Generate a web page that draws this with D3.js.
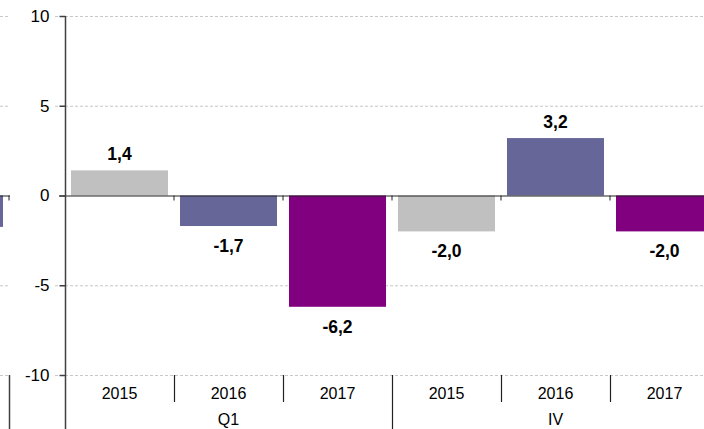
<!DOCTYPE html>
<html>
<head>
<meta charset="utf-8">
<script src="https://cdn.jsdelivr.net/npm/d3@7"></script>
<style>
  body { margin: 0; background: #fff; }
  text { font-family: Arial, "Liberation Sans", sans-serif; fill: #000; }
</style>
</head>
<body>
<div class="chart"></div>
<script>
var w = 704;
var h = 429;

// data
var years = ["2015", "2016", "2017", "2015", "2016", "2017"];
var groups = ["Q1", "IV"];
var values = [1.4, -1.7, -6.2, -2.0, 3.2, -2.0];
var labels = ["1,4", "-1,7", "-6,2", "-2,0", "3,2", "-2,0"];
var yTicks = [10, 5, 0, -5, -10];
var prevValue = -1.75; // last bar of the panel cut off on the left

var colors = ["#c0c0c0", "#666699", "#800080"];

var svg = d3.select(".chart")
  .append("svg")
  .attr("width", w)
  .attr("height", h);

var y = d3.scaleLinear()
  .domain([-10, 10])
  .range([375, 16]);

var x = d3.scaleBand()
  .domain(d3.range(years.length))
  .range([65, 65 + 109 * years.length])
  .paddingInner(0.11)
  .paddingOuter(0.055);

// left fragment scale (previous panel)
var xPrev = d3.scaleBand()
  .domain([0])
  .range([9 - 109, 9])
  .paddingInner(0.11)
  .paddingOuter(0.055);

// gridlines
svg.selectAll(".grid")
  .data(yTicks.filter(function(d) { return d !== 0; }))
  .enter().append("line")
  .attr("x1", 0).attr("x2", w)
  .attr("y1", function(d) { return y(d) + 0.5; })
  .attr("y2", function(d) { return y(d) + 0.5; })
  .attr("stroke", "#c8c8c8")
  .attr("stroke-dasharray", "3,2");

// white gap for the y-axis label area
svg.append("rect")
  .attr("x", 10).attr("y", 0)
  .attr("width", 45).attr("height", h)
  .attr("fill", "#fff");

// previous panel bar
svg.append("rect")
  .attr("x", xPrev(0))
  .attr("width", xPrev.bandwidth())
  .attr("y", y(0))
  .attr("height", y(prevValue) - y(0))
  .attr("fill", colors[1]);

// bars
svg.selectAll(".bar")
  .data(values)
  .enter().append("rect")
  .attr("x", function(d, i) { return x(i); })
  .attr("width", x.bandwidth())
  .attr("y", function(d) { return y(Math.max(0, d)); })
  .attr("height", function(d) { return Math.abs(y(d) - y(0)); })
  .attr("fill", function(d, i) { return colors[i % 3]; });

// value labels
svg.selectAll(".val")
  .data(values)
  .enter().append("text")
  .attr("x", function(d, i) { return x(i) + x.bandwidth() / 2; })
  .attr("y", function(d) { return d >= 0 ? y(d) - 10 : y(d) + 26; })
  .attr("text-anchor", "middle")
  .style("font-size", "17.5px")
  .style("font-weight", "bold")
  .text(function(d, i) { return labels[i]; });

// zero line
svg.append("line")
  .attr("x1", 0).attr("x2", w)
  .attr("y1", y(0) + 0.5).attr("y2", y(0) + 0.5)
  .attr("stroke", "#222")
  .attr("stroke-width", 1.2);
svg.append("rect")
  .attr("x", 10).attr("y", y(0) - 2)
  .attr("width", 49).attr("height", 5)
  .attr("fill", "#fff");

// small ticks on zero line
var bounds = d3.range(1, years.length).map(function(i) { return 65 + 109 * i; });
svg.selectAll(".ztick")
  .data([9].concat(bounds))
  .enter().append("line")
  .attr("x1", function(d) { return d; })
  .attr("x2", function(d) { return d; })
  .attr("y1", y(0)).attr("y2", y(0) + 5)
  .attr("stroke", "#222");

// y axis
var yAxis = d3.axisLeft(y)
  .tickValues(yTicks)
  .tickSize(6)
  .tickPadding(10)
  .tickFormat(function(d) { return String(d); });

var gy = svg.append("g")
  .attr("transform", "translate(65.5,0)")
  .call(yAxis);
gy.select(".domain").remove();
gy.selectAll(".tick line").attr("stroke", "#404040").attr("stroke-width", 1.5);
gy.selectAll(".tick text")
  .style("font-size", "17px")
  .style("font-family", "Arial, 'Liberation Sans', sans-serif")
  .attr("fill", "#000");

svg.append("line")
  .attr("x1", 65.5).attr("x2", 65.5)
  .attr("y1", y(10)).attr("y2", h)
  .attr("stroke", "#404040")
  .attr("stroke-width", 1.5);

// category separators
svg.selectAll(".sep")
  .data(bounds)
  .enter().append("line")
  .attr("x1", function(d) { return d + 0.5; })
  .attr("x2", function(d) { return d + 0.5; })
  .attr("y1", y(-10))
  .attr("y2", function(d, i) { return i === 2 ? h : 402; })
  .attr("stroke", "#222")
  .attr("stroke-width", 1.2);

// left fragment separator
svg.append("line")
  .attr("x1", 9.5).attr("x2", 9.5)
  .attr("y1", y(-10)).attr("y2", h)
  .attr("stroke", "#404040")
  .attr("stroke-width", 1.5);

// category labels
svg.selectAll(".cat")
  .data(years)
  .enter().append("text")
  .attr("x", function(d, i) { return x(i) + x.bandwidth() / 2; })
  .attr("y", 399)
  .attr("text-anchor", "middle")
  .style("font-size", "16px")
  .text(function(d) { return d; });

// group labels
svg.selectAll(".grp")
  .data(groups)
  .enter().append("text")
  .attr("x", function(d, i) { return (x(i * 3) + x(i * 3 + 2) + x.bandwidth()) / 2; })
  .attr("y", 425)
  .attr("text-anchor", "middle")
  .style("font-size", "16px")
  .text(function(d) { return d; });
</script>
</body>
</html>
